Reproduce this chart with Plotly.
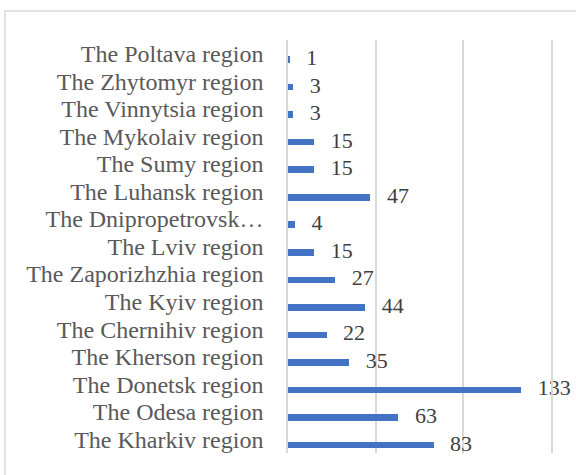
import plotly.graph_objects as go

# Data (bottom to top)
regions = [
    "The Kharkiv region", "The Odesa region", "The Donetsk region",
    "The Kherson region", "The Chernihiv region", "The Kyiv region",
    "The Zaporizhzhia region", "The Lviv region", "The Dnipropetrovsk…",
    "The Luhansk region", "The Sumy region", "The Mykolaiv region",
    "The Vinnytsia region", "The Zhytomyr region", "The Poltava region",
]
values = [83, 63, 133, 35, 22, 44, 27, 15, 4, 47, 15, 15, 3, 3, 1]
x_ticks = [0, 50, 100, 150]

positions = list(range(len(regions)))
BAR_OFFSET = -0.33
BAR_WIDTH = 0.24
label_y = [p + BAR_OFFSET + BAR_WIDTH / 2 for p in positions]

PAGE_W, PAGE_H = 576, 475
L, R, T, B = 288, 25, 40, 22
plot_w = PAGE_W - L - R
plot_h = PAGE_H - T - B
GRID = "#d9d9d9"

fig = go.Figure()
fig.add_trace(go.Bar(
    x=values, y=positions, orientation="h",
    offset=BAR_OFFSET, width=BAR_WIDTH,
    marker=dict(color="#4472C4", line=dict(width=0)),
    hoverinfo="skip", showlegend=False,
))
fig.add_trace(go.Scatter(
    x=values, y=label_y, mode="text",
    text=["   " + str(v) for v in values],
    textposition="middle right",
    textfont=dict(family="Liberation Serif, Times New Roman, serif", size=22, color="#404040"),
    hoverinfo="skip", showlegend=False, cliponaxis=False,
))

fig.update_layout(
    width=PAGE_W, height=PAGE_H,
    margin=dict(l=L, r=R, t=T, b=B, autoexpand=False),
    paper_bgcolor="white", plot_bgcolor="white",
    bargap=0,
    xaxis=dict(
        range=[x_ticks[0], x_ticks[-1]], tickvals=x_ticks, showticklabels=False,
        showgrid=True, gridcolor=GRID, gridwidth=1.5,
        zeroline=False, showline=False, ticks="",
    ),
    yaxis=dict(
        range=[-0.5, 14.5], tickvals=positions, ticktext=regions,
        showgrid=False, zeroline=False, ticks="",
        showline=True, mirror=True, linecolor=GRID, linewidth=1.5,
        ticklabelstandoff=18,
        tickfont=dict(family="Liberation Serif, Times New Roman, serif", size=24, color="#595959"),
    ),
    shapes=[dict(
        type="rect", xref="paper", yref="paper",
        x0=(5 - L) / plot_w, x1=1.3, y0=-0.2, y1=(PAGE_H - B - 11) / plot_h,
        line=dict(color=GRID, width=1.5), fillcolor="rgba(0,0,0,0)",
        layer="below",
    )],
)

fig.write_html(
    "out.html",
    config={"displayModeBar": False},
    post_script="document.body.style.margin='0';document.body.style.overflow='hidden';",
)
